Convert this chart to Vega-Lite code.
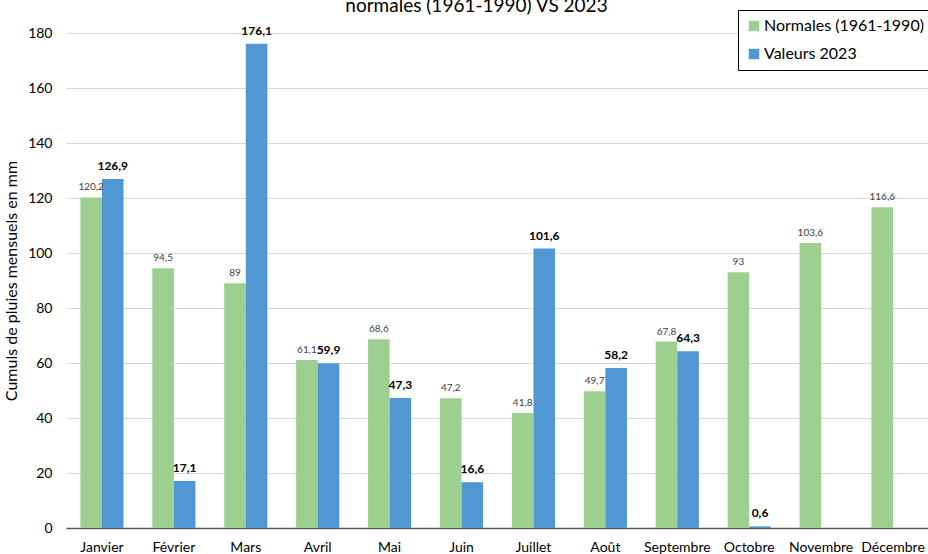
{
  "$schema": "https://vega.github.io/schema/vega-lite/v6.json",
  "autosize": {"type": "none"},
  "padding": {"left": 66, "top": 33, "right": 0, "bottom": 26},
  "width": 863,
  "height": 495,
  "background": "white",
  "title": {
    "text": "normales (1961-1990) VS 2023",
    "font": "Lato",
    "fontSize": 19,
    "fontWeight": "normal",
    "color": "#000000",
    "anchor": "middle",
    "frame": "group",
    "dx": -21,
    "dy": 21,
    "offset": 0,
    "baseline": "alphabetic"
  },
  "data": {
    "values": [
      {"mois": "Janvier", "serie": "Normales (1961-1990)", "pluie": 120.2},
      {"mois": "Janvier", "serie": "Valeurs 2023", "pluie": 126.9},
      {"mois": "Février", "serie": "Normales (1961-1990)", "pluie": 94.5},
      {"mois": "Février", "serie": "Valeurs 2023", "pluie": 17.1},
      {"mois": "Mars", "serie": "Normales (1961-1990)", "pluie": 89},
      {"mois": "Mars", "serie": "Valeurs 2023", "pluie": 176.1},
      {"mois": "Avril", "serie": "Normales (1961-1990)", "pluie": 61.1},
      {"mois": "Avril", "serie": "Valeurs 2023", "pluie": 59.9},
      {"mois": "Mai", "serie": "Normales (1961-1990)", "pluie": 68.6},
      {"mois": "Mai", "serie": "Valeurs 2023", "pluie": 47.3},
      {"mois": "Juin", "serie": "Normales (1961-1990)", "pluie": 47.2},
      {"mois": "Juin", "serie": "Valeurs 2023", "pluie": 16.6},
      {"mois": "Juillet", "serie": "Normales (1961-1990)", "pluie": 41.8},
      {"mois": "Juillet", "serie": "Valeurs 2023", "pluie": 101.6},
      {"mois": "Août", "serie": "Normales (1961-1990)", "pluie": 49.7},
      {"mois": "Août", "serie": "Valeurs 2023", "pluie": 58.2},
      {"mois": "Septembre", "serie": "Normales (1961-1990)", "pluie": 67.8},
      {"mois": "Septembre", "serie": "Valeurs 2023", "pluie": 64.3},
      {"mois": "Octobre", "serie": "Normales (1961-1990)", "pluie": 93},
      {"mois": "Octobre", "serie": "Valeurs 2023", "pluie": 0.6},
      {"mois": "Novembre", "serie": "Normales (1961-1990)", "pluie": 103.6},
      {"mois": "Décembre", "serie": "Normales (1961-1990)", "pluie": 116.6}
    ]
  },
  "encoding": {
    "x": {
      "field": "mois",
      "type": "nominal",
      "sort": ["Janvier", "Février", "Mars", "Avril", "Mai", "Juin", "Juillet", "Août", "Septembre", "Octobre", "Novembre", "Décembre"],
      "scale": {"paddingInner": 0.4, "paddingOuter": 0.2},
      "axis": {
        "title": null,
        "labelAngle": 0,
        "labelFont": "Lato",
        "labelFontSize": 14,
        "labelColor": "#000000",
        "labelPadding": 12,
        "ticks": false,
        "domainColor": "#595959",
        "domainWidth": 1.5,
        "grid": false
      }
    },
    "xOffset": {
      "field": "serie",
      "type": "nominal",
      "scale": {"domain": ["Normales (1961-1990)", "Valeurs 2023"], "paddingInner": 0, "paddingOuter": 0}
    },
    "y": {
      "field": "pluie",
      "type": "quantitative",
      "scale": {"domain": [0, 180], "nice": false},
      "axis": {
        "title": "Cumuls de pluies mensuels en mm",
        "titleFont": "Lato",
        "titleFontSize": 16,
        "titleFontWeight": "normal",
        "titleColor": "#000000",
        "titlePadding": 8,
        "values": [0, 20, 40, 60, 80, 100, 120, 140, 160, 180],
        "labelFont": "Lato",
        "labelFontSize": 14,
        "labelColor": "#000000",
        "labelPadding": 14,
        "ticks": false,
        "domain": false,
        "grid": true,
        "gridColor": "#d9d9d9",
        "gridWidth": 1
      }
    }
  },
  "layer": [
    {
      "mark": {"type": "bar"},
      "encoding": {
        "color": {
          "field": "serie",
          "type": "nominal",
          "scale": {"domain": ["Normales (1961-1990)", "Valeurs 2023"], "range": ["#9DD08F", "#5097D3"]},
          "legend": {
            "title": null,
            "orient": "none",
            "legendX": 672,
            "legendY": -23,
            "direction": "vertical",
            "symbolType": "square",
            "symbolSize": 110,
            "symbolStrokeWidth": 0,
            "labelFont": "Lato",
            "labelFontSize": 16,
            "labelColor": "#000000",
            "labelOffset": 2,
            "rowPadding": 12,
            "padding": 8,
            "strokeColor": "#000000",
            "fillColor": "#ffffff"
          }
        }
      }
    },
    {
      "transform": [{"filter": "datum.serie === 'Normales (1961-1990)'"}],
      "mark": {"type": "text", "baseline": "alphabetic", "dy": -7, "font": "Lato", "fontSize": 10, "color": "#404040"},
      "encoding": {"text": {"field": "pluie", "type": "quantitative", "format": ".1~f"}}
    },
    {
      "transform": [{"filter": "datum.serie === 'Valeurs 2023'"}],
      "mark": {"type": "text", "baseline": "alphabetic", "dy": -9, "font": "Lato", "fontSize": 12, "fontWeight": "bold", "color": "#000000"},
      "encoding": {"text": {"field": "pluie", "type": "quantitative", "format": ".1~f"}}
    }
  ],
  "config": {
    "view": {"stroke": null},
    "locale": {"number": {"decimal": ",", "thousands": " ", "grouping": [3], "currency": ["", " €"]}}
  }
}
